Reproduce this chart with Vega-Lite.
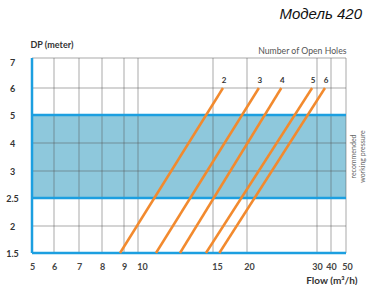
{
  "$schema": "https://vega.github.io/schema/vega-lite/v6.json",
  "width": 314,
  "height": 195,
  "autosize": "none",
  "padding": {"left": 32, "top": 58, "right": 22, "bottom": 32},
  "background": "white",
  "config": {"view": {"stroke": null}, "font": "Lato"},
  "title": {"text": "Модель 420", "anchor": "end", "font": "Liberation Sans", "fontSize": 15, "fontStyle": "italic", "fontWeight": "normal", "color": "#111", "dx": -3, "offset": 18},
  "datasets": {
    "band": [{"flow": 5, "flow2": 50, "dp": 2.5, "dp2": 5}],
    "xgrid": [{"flow": 6}, {"flow": 7}, {"flow": 8}, {"flow": 9}, {"flow": 10}, {"flow": 15}, {"flow": 20}, {"flow": 30}, {"flow": 40}, {"flow": 50}],
    "ygrid": [{"dp": 2}, {"dp": 3}, {"dp": 4}, {"dp": 6}, {"dp": 7}],
    "bluey": [{"dp": 1.5}, {"dp": 2.5}, {"dp": 5}],
    "bluex": [{"flow": 5}],
    "lines": [
      {"holes": "2", "flow": 8.82, "dp": 1.5}, {"holes": "2", "flow": 16.47, "dp": 6},
      {"holes": "3", "flow": 11.2, "dp": 1.5}, {"holes": "3", "flow": 21.7, "dp": 6},
      {"holes": "4", "flow": 12.8, "dp": 1.5}, {"holes": "4", "flow": 24.9, "dp": 6},
      {"holes": "5", "flow": 14.53, "dp": 1.5}, {"holes": "5", "flow": 29.3, "dp": 6},
      {"holes": "6", "flow": 15.93, "dp": 1.5}, {"holes": "6", "flow": 35.7, "dp": 6}
    ]
  },
  "resolve": {"axis": {"x": "independent", "y": "independent"}},
  "layer": [
    {
      "data": {"name": "band"},
      "mark": {"type": "rect", "color": "#8ec8dc"},
      "encoding": {
        "x": {"field": "flow", "type": "quantitative",
          "scale": {"domain": [5, 6, 7, 8, 9, 10, 15, 20, 30, 40, 50], "range": [0, 22, 47, 70, 92, 106, 181, 215, 285, 299, 314], "nice": false, "zero": false},
          "axis": {"orient": "bottom", "values": [5, 6, 7, 8, 9, 10, 15, 20, 30, 40, 50], "labelExpr": "'' + datum.value", "labelOverlap": false, "labelFlush": false, "labelBound": false, "grid": false, "ticks": false, "domain": false, "labelPadding": 9, "labelFont": "Lato", "labelFontSize": 9, "labelFontWeight": "bold", "labelColor": "#444", "labelOffset": {"expr": "datum.value == 10 || datum.value == 15 ? 4 : (datum.value == 20 ? 2 : (datum.value == 50 ? 1 : 0))"},
            "title": "Flow (m³/h)", "titleFont": "Lato", "titleFontSize": 10, "titleFontWeight": "bold", "titleColor": "#333", "titleX": 325, "titleY": 30, "titleAlign": "right", "titleBaseline": "alphabetic", "titleAnchor": null}},
        "x2": {"field": "flow2"},
        "y": {"field": "dp", "type": "quantitative",
          "scale": {"domain": [1.5, 2, 2.5, 3, 4, 5, 6, 7], "range": [195, 168, 140, 113, 85, 57, 30, 0], "nice": false, "zero": false},
          "axis": {"orient": "left", "values": [1.5, 2, 2.5, 3, 4, 5, 6, 7], "labelExpr": "'' + datum.value", "labelOverlap": false, "labelFlush": false, "labelBound": false, "grid": false, "ticks": false, "domain": false, "labelAlign": "center", "labelPadding": 20, "labelFont": "Lato", "labelFontSize": 9, "labelFontWeight": "bold", "labelColor": "#333", "labelOffset": {"expr": "datum.value == 7 ? 4 : 0"},
            "title": "DP (meter)", "titleAngle": 0, "titleX": -2, "titleY": -11, "titleAlign": "left", "titleBaseline": "alphabetic", "titleFont": "Lato", "titleFontSize": 9, "titleFontWeight": "bold", "titleColor": "#333"}},
        "y2": {"field": "dp2"}
      }
    },
    {
      "data": {"name": "xgrid"},
      "mark": {"type": "rule", "color": "#555", "opacity": 0.5, "strokeWidth": 1},
      "encoding": {
        "x": {"field": "flow", "type": "quantitative",
          "axis": {"orient": "top", "labels": false, "ticks": false, "domain": false, "grid": false,
            "title": "Number of Open Holes", "titleX": 314, "titleY": -5, "titleAlign": "right", "titleBaseline": "alphabetic", "titleFont": "Lato", "titleFontSize": 8.7, "titleFontWeight": "normal", "titleColor": "#555"}}
      }
    },
    {
      "data": {"name": "ygrid"},
      "mark": {"type": "rule", "color": "#555", "opacity": 0.5, "strokeWidth": 1},
      "encoding": {
        "y": {"field": "dp", "type": "quantitative",
          "axis": {"orient": "right", "labels": false, "ticks": false, "domain": false, "grid": false,
            "title": ["recommended", "working pressure"], "titleAngle": 270, "titleX": 7, "titleY": 98, "titleAlign": "center", "titleBaseline": "middle", "titleFont": "Lato", "titleFontSize": 7, "titleFontWeight": "normal", "titleColor": "#666", "titleLineHeight": 9}}
      }
    },
    {
      "data": {"name": "bluey"},
      "mark": {"type": "rule", "color": "#1c9fe0", "strokeWidth": 2.5},
      "encoding": {"y": {"field": "dp", "type": "quantitative", "axis": null}}
    },
    {
      "data": {"name": "bluex"},
      "mark": {"type": "rule", "color": "#1c9fe0", "strokeWidth": 2.5},
      "encoding": {"x": {"field": "flow", "type": "quantitative", "axis": null}}
    },
    {
      "data": {"name": "lines"},
      "mark": {"type": "line", "color": "#f28a2e", "strokeWidth": 2.5},
      "encoding": {
        "x": {"field": "flow", "type": "quantitative", "axis": null},
        "y": {"field": "dp", "type": "quantitative", "axis": null},
        "detail": {"field": "holes"}
      }
    },
    {
      "data": {"name": "lines"},
      "transform": [{"filter": "datum.dp == 6"}],
      "mark": {"type": "text", "font": "Lato", "fontSize": 8, "fontWeight": "bold", "color": "#333", "dy": -7, "dx": 1},
      "encoding": {
        "x": {"field": "flow", "type": "quantitative", "axis": null},
        "y": {"field": "dp", "type": "quantitative", "axis": null},
        "text": {"field": "holes"}
      }
    }
  ]
}
